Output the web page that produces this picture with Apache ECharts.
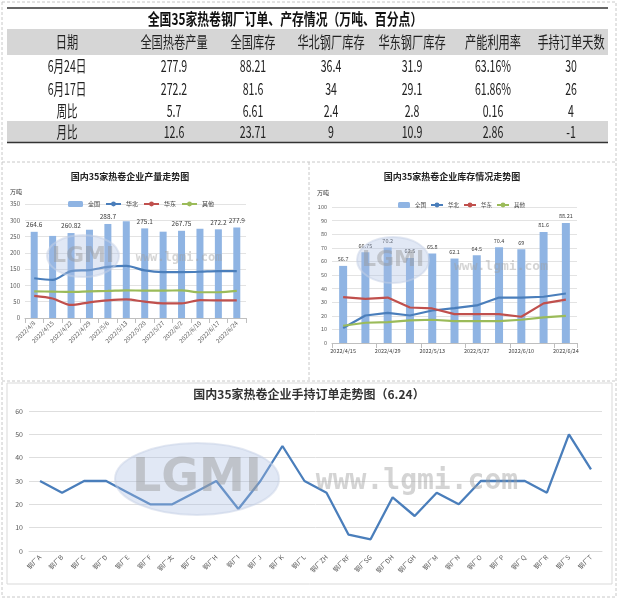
<!DOCTYPE html>
<html>
<head>
<meta charset="utf-8">
<script src="https://cdn.jsdelivr.net/npm/echarts@6/dist/echarts.min.js"></script>
<style>
html,body{margin:0;padding:0;background:#fff;}
#main{width:621px;height:599px;}
</style>
</head>
<body>
<div id="main"></div>
<script>
// ---------- table data ----------
const tableTitle = '全国35家热卷钢厂订单、产存情况（万吨、百分点）';
const tableHeader = ['日期','全国热卷产量','全国库存','华北钢厂库存','华东钢厂库存','产能利用率','手持订单天数'];
const rowJun24 = ['6月24日','277.9','88.21','36.4','31.9','63.16%','30'];
const rowJun17 = ['6月17日','272.2','81.6','34','29.1','61.86%','26'];
const rowWeek  = ['周比','5.7','6.61','2.4','2.8','0.16','4'];
const rowMonth = ['月比','12.6','23.71','9','10.9','2.86','-1'];

// ---------- production chart ----------
const prodTitle = '国内35家热卷企业产量走势图';
const prodDates = ['2022/4/8','2022/4/15','2022/4/22','2022/4/29','2022/5/6','2022/5/13','2022/5/20','2022/5/27','2022/6/2','2022/6/10','2022/6/17','2022/6/24'];
const prodTotal = [264.6, 252, 260.82, 271, 288.7, 297, 275.1, 265, 267.75, 274, 272.2, 277.9];
const prodNorth = [122, 117, 144, 147, 157, 160, 146, 141, 141, 142, 144, 144];
const prodEast  = [68, 60, 40, 48, 54, 57, 50, 45, 45, 55, 54, 54];
const prodOther = [82, 81, 80, 82, 83, 85, 84, 84, 85, 79, 79, 83];
const prodLabeled = [0, 2, 4, 6, 8, 10, 11];

// ---------- inventory chart ----------
const invTitle = '国内35家热卷企业库存情况走势图';
const invDates = ['2022/4/15','2022/4/22','2022/4/29','2022/5/6','2022/5/13','2022/5/20','2022/5/27','2022/6/3','2022/6/10','2022/6/17','2022/6/24'];
const invTotal = [56.7, 66.75, 70.2, 62.5, 65.8, 62.1, 64.5, 70.4, 69, 81.6, 88.21];
const invNorth = [11, 20.2, 22.2, 20.2, 23.9, 25.6, 27.6, 33.4, 33.4, 34, 36.4];
const invEast  = [33.7, 32.4, 33.4, 26.1, 25.4, 21.2, 21.2, 21.2, 19.3, 29.1, 31.9];
const invOther = [12.7, 14.9, 15.4, 16.6, 17.1, 16.1, 16.1, 16.1, 17.1, 18.8, 20];

// ---------- orders chart ----------
const orderTitle = '国内35家热卷企业手持订单走势图（6.24）';
const mills = ['钢厂A','钢厂B','钢厂C','钢厂D','钢厂E','钢厂F','钢厂太','钢厂G','钢厂H','钢厂I','钢厂J','钢厂K','钢厂L','钢厂ZH','钢厂RF','钢厂SG','钢厂DH','钢厂GH','钢厂M','钢厂N','钢厂O','钢厂P','钢厂Q','钢厂R','钢厂S','钢厂T'];
const orderDays = [30, 25, 30, 30, 25, 20, 20, 25, 30, 18, 30, 45, 30, 25, 7, 5, 23, 15, 25, 20, 30, 30, 30, 25, 50, 35];

const seriesNames = ['全国','华北','华东','其他'];
const cBar = '#8FB4E3', cNorth = '#4A7EBB', cEast = '#C0504D', cOther = '#9BBB59';
const FONT = '"Noto Sans CJK SC", "Noto Sans", sans-serif';

// ---------- graphic: table + frames ----------
const colX = [67, 174, 253, 331, 412, 493, 571];
const rows = [rowJun24, rowJun17, rowWeek, rowMonth];
const rowY = [66, 88.5, 110.5, 132];
const g = [];
function txt(s, x, y, size, weight, sx, color) {
  g.push({type:'text', x:x, y:y, scaleX:sx, z:10,
    style:{text:s, x:0, y:0, font: (weight||'normal') + ' ' + size + 'px ' + FONT,
      fill: color || '#222', textAlign:'center', align:'center', textVerticalAlign:'middle', verticalAlign:'middle'}});
}
function line(x1,y1,x2,y2,color,w,dash){
  g.push({type:'line', z:5, shape:{x1,y1,x2,y2}, style:{stroke:color, lineWidth:w, lineDash: dash||null}});
}
// frames (dashed)
g.push({type:'rect', z:1, shape:{x:2,y:2,width:614,height:595}, style:{fill:'none', stroke:'#c8c8c8', lineWidth:1, lineDash:[3,2]}});
line(2,162,616,162,'#c8c8c8',1,[3,2]);
line(2,381,616,381,'#c8c8c8',1,[3,2]);
line(309,162,309,381,'#c8c8c8',1,[3,2]);
g.push({type:'rect', z:1, shape:{x:7,y:383,width:605,height:201}, style:{fill:'none', stroke:'#d9d9d9', lineWidth:1}});
// table backgrounds
g.push({type:'rect', z:2, shape:{x:7,y:29,width:601,height:26}, style:{fill:'#d6d6d6'}});
g.push({type:'rect', z:2, shape:{x:7,y:121,width:601,height:21}, style:{fill:'#d6d6d6'}});
line(7,8,608,8,'#333',1.5);
line(7,142.5,608,142.5,'#333',1.5);
txt(tableTitle, 285, 19, 16, 'bold', 0.74, '#111');
tableHeader.forEach((h,i)=>txt(h, colX[i], 42, 16, 'normal', 0.7, '#222'));
rows.forEach((r,ri)=>r.forEach((v,ci)=>txt(v, colX[ci], rowY[ri], 16, 'normal', 0.66, '#222')));
// chart titles / units
txt(prodTitle, 130, 177, 9, 'bold', 1, '#222');
txt(invTitle, 452, 177, 9, 'bold', 1, '#222');
txt(orderTitle, 309, 394, 12, 'bold', 1, '#333');
txt('万吨', 16, 192, 6, 'normal', 1, '#333');
txt('万吨', 323, 193, 6, 'normal', 1, '#333');
// watermarks
function mark(cx, cy, rx, ry, fs){
  g.push({type:'ellipse', z:20, shape:{cx,cy,rx,ry}, style:{fill:'rgba(170,190,225,0.35)', stroke:'rgba(200,210,230,0.5)', lineWidth:2}});
  g.push({type:'text', z:21, x:cx, y:cy, style:{text:'LGMI', x:0, y:0, font:'bold '+fs+'px "DejaVu Sans", sans-serif', fill:'rgba(150,150,150,0.45)', textAlign:'center', align:'center', textVerticalAlign:'middle', verticalAlign:'middle'}});
}
function www(cx, cy, fs){
  g.push({type:'text', z:21, x:cx, y:cy, style:{text:'www.lgmi.com', x:0, y:0, font:'bold '+fs+'px "DejaVu Sans Mono", monospace', fill:'rgba(160,160,160,0.45)', textAlign:'center', align:'center', textVerticalAlign:'middle', verticalAlign:'middle'}});
}
mark(83, 256, 36, 21, 22); www(179, 258, 12);
mark(393, 260, 36, 23, 22); www(501, 267, 13);
mark(197, 479, 82, 36, 46); www(417, 482, 28);

// ---------- series ----------
const lineBase = (name, data, color, xi, smooth) => ({
  type:'line', name, data, xAxisIndex:xi, yAxisIndex:xi, symbol:'none', smooth: smooth||false,
  lineStyle:{color, width:2.2}, itemStyle:{color}, z:3
});
const prodBarData = prodTotal.map((v,i)=>({value:v, label:{show: prodLabeled.indexOf(i) >= 0}}));

const axisLabelStyle = {color:'#595959', fontFamily: FONT};
const option = {
  animation:false,
  backgroundColor:'#fff',
  graphic:{elements:g},
  legend:[
    {data:seriesNames, left:63, top:196, itemWidth:15, itemHeight:6, itemGap:5, textStyle:{fontSize:6, color:'#404040', fontFamily:FONT}},
    {data:seriesNames, left:393, top:197, itemWidth:12, itemHeight:6, itemGap:4, textStyle:{fontSize:5.5, color:'#404040', fontFamily:FONT}}
  ],
  grid:[
    {left:25, top:204, width:221, height:114},
    {left:332, top:207, width:245, height:136},
    {left:29, top:411, width:573, height:140}
  ],
  xAxis:[
    {type:'category', gridIndex:0, data:prodDates,
      axisLine:{lineStyle:{color:'#bfbfbf'}}, axisTick:{show:true, lineStyle:{color:'#bfbfbf'}},
      axisLabel:Object.assign({rotate:45, interval:0, fontSize:6, margin:4}, axisLabelStyle)},
    {type:'category', gridIndex:1, data:invDates,
      axisLine:{lineStyle:{color:'#bfbfbf'}}, axisTick:{show:true, interval:1, lineStyle:{color:'#bfbfbf'}},
      axisLabel:Object.assign({interval:1, fontSize:5.5, margin:5, color:'#404040'}, {fontFamily:FONT})},
    {type:'category', gridIndex:2, data:mills,
      axisLine:{lineStyle:{color:'#d9d9d9'}}, axisTick:{show:false},
      axisLabel:Object.assign({rotate:45, interval:0, fontSize:6.5, margin:5}, axisLabelStyle)}
  ],
  yAxis:[
    {type:'value', gridIndex:0, min:0, max:350, interval:50,
      axisLine:{show:false}, axisTick:{show:false}, splitLine:{lineStyle:{color:'#e3e3e3'}},
      axisLabel:Object.assign({fontSize:6, margin:5}, axisLabelStyle)},
    {type:'value', gridIndex:1, min:0, max:100, interval:10,
      axisLine:{show:false}, axisTick:{show:false}, splitLine:{lineStyle:{color:'#e3e3e3'}},
      axisLabel:Object.assign({fontSize:5.5, margin:5}, axisLabelStyle)},
    {type:'value', gridIndex:2, min:0, max:60, interval:10,
      axisLine:{show:false}, axisTick:{show:false}, splitLine:{lineStyle:{color:'#dedede'}},
      axisLabel:Object.assign({fontSize:7, margin:6}, axisLabelStyle)}
  ],
  series:[
    {type:'bar', name:'全国', data:prodBarData, xAxisIndex:0, yAxisIndex:0, barWidth:7,
      itemStyle:{color:cBar}, z:2,
      label:{position:'top', distance:4, fontSize:6.5, color:'#404040', fontFamily:FONT}},
    lineBase('华北', prodNorth, cNorth, 0, 0.3),
    lineBase('华东', prodEast, cEast, 0, 0.3),
    lineBase('其他', prodOther, cOther, 0, 0.3),
    {type:'bar', name:'全国', data:invTotal, xAxisIndex:1, yAxisIndex:1, barWidth:8,
      itemStyle:{color:cBar}, z:2,
      label:{show:true, position:'top', distance:4, fontSize:5.5, color:'#404040', fontFamily:FONT}},
    lineBase('华北', invNorth, cNorth, 1),
    lineBase('华东', invEast, cEast, 1),
    lineBase('其他', invOther, cOther, 1),
    {type:'line', name:'手持订单', data:orderDays, xAxisIndex:2, yAxisIndex:2, symbol:'none',
      lineStyle:{color:cNorth, width:2.3}, itemStyle:{color:cNorth}, z:3}
  ]
};
const chart = echarts.init(document.getElementById('main'), null, {renderer:'canvas'});
chart.setOption(option);
</script>
</body>
</html>
